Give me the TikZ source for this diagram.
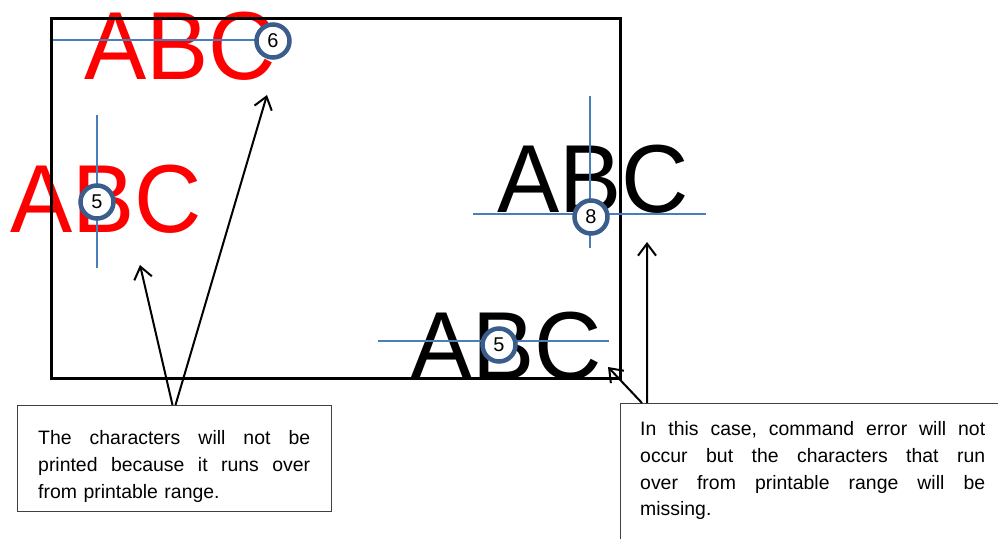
\documentclass[tikz,border=0pt]{standalone}
\usepackage{fontspec}
\setmainfont{Liberation Sans}
\newfontfamily\bigfont[FakeStretch=0.965]{Liberation Sans}
\usetikzlibrary{arrows.meta,calc}
\definecolor{circblue}{HTML}{3A5D8C}
\definecolor{lineblue}{HTML}{4A7EBB}
\definecolor{abcred}{HTML}{FF0000}
\newcommand\jline[2]{\leavevmode\hbox to #1{#2}}
\begin{document}
\begin{tikzpicture}[x=1bp,y=-1bp,
  big/.style={inner sep=0, anchor=base west, font=\bigfont\fontsize{97}{97}\selectfont},
  guide/.style={draw=lineblue, line width=1.5bp},
  num/.style={circle, draw=circblue, line width=4.5bp, fill=white, minimum size=33bp, inner sep=0, font=\fontsize{20}{20}\selectfont},
  frame/.style={draw=black, line width=3bp, inner sep=0, anchor=north west},
  arr/.style={draw=black, line width=2bp, -{Straight Barb[length=12bp,width=18bp]}},
  note/.style={draw=black!75, line width=1bp, fill=white, inner sep=0, anchor=north west},
  notetext/.style={inner sep=0, anchor=north west, align=left, font=\fontsize{19.5}{27}\selectfont},
]
\clip (0,0) rectangle (998,539);
\fill[white] (0,0) rectangle (998,539);

% big texts
\node[big, text=abcred] (abc1) at (84,80) {ABC};
\node[big, text=abcred] (abc2) at (10,233) {ABC};
\node[big, text=black] (abc3) at (497,213) {ABC};
\node[big, text=black] (abc4) at (410,380) {ABC};

% printable area
\node[frame, minimum width=569bp, minimum height=360bp] (area) at (50,17) {};

% guide lines
\coordinate (g1a) at (53,40);
\coordinate (g1b) at (273,40);
\draw[guide] (g1a) -- (g1b);
\coordinate (g2a) at (97,115);
\coordinate (g2b) at (97,268);
\draw[guide] (g2a) -- (g2b);
\coordinate (g3a) at (473,214);
\coordinate (g3b) at (706,214);
\draw[guide] (g3a) -- (g3b);
\coordinate (g4a) at (590,96);
\coordinate (g4b) at (590,248);
\draw[guide] (g4a) -- (g4b);
\coordinate (g5a) at (378,341);
\coordinate (g5b) at (609,341);
\draw[guide] (g5a) -- (g5b);

% numbered circles
\node[num] (c6) at (273,41) {6};
\node[num] (c5a) at (97,202) {5};
\node[num] (c8) at (591,217) {8};
\node[num] (c5b) at (499,345) {5};

% note boxes
\node[note, minimum width=314bp, minimum height=106bp] (lbox) at (17,405) {};
\node[notetext, text width=272bp] (ltext) at (38,430)
  {\jline{272bp}{The\hfill characters\hfill will\hfill not\hfill be}\\
   \jline{272bp}{printed\hfill because\hfill it\hfill runs\hfill over}\\
   from printable range.};

\node[note, minimum width=420bp, minimum height=160bp] (rbox) at (620,403) {};
\node[notetext, text width=345bp] (rtext) at (640,421)
  {\jline{345bp}{In\hfill this\hfill case,\hfill command\hfill error\hfill will\hfill not}\\
   \jline{345bp}{occur\hfill but\hfill the\hfill characters\hfill that\hfill run}\\
   \jline{345bp}{over\hfill from\hfill printable\hfill range\hfill will\hfill be}\\
   missing.};

% arrow targets
\coordinate (t1) at (140,265);
\coordinate (t2) at (267,95);
\coordinate (t3) at (647,242);
\coordinate (t4) at (608,367);

\draw[arr] ([xshift=-2bp]lbox.north) -- (t1);
\draw[arr] ([xshift=1bp]lbox.north) -- (t2);
\draw[arr] ([xshift=27bp]rbox.north west) -- (t3);
\draw[arr] ([xshift=22bp]rbox.north west) -- (t4);
\end{tikzpicture}
\end{document}
